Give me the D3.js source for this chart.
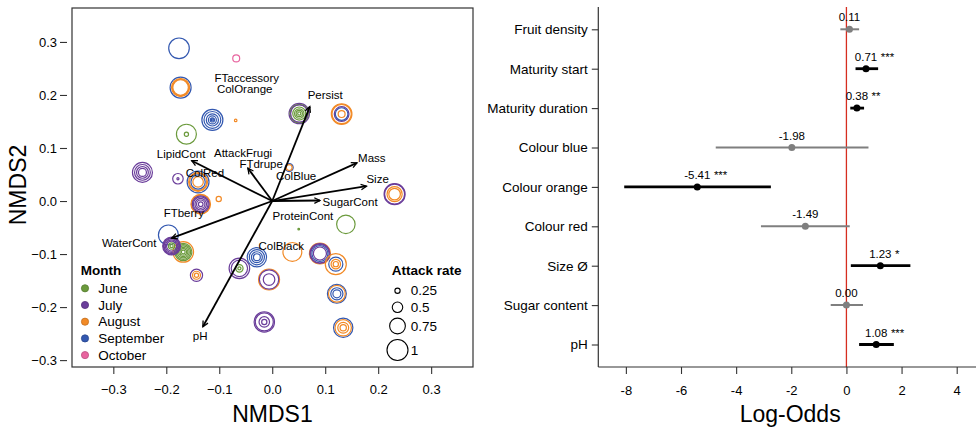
<!DOCTYPE html>
<html><head><meta charset="utf-8">
<script src="https://cdn.jsdelivr.net/npm/d3@7"></script>
<style>
body{margin:0;background:#fff}
svg{display:block}
text{font-family:"Liberation Sans",Arial,sans-serif;fill:#000}
</style>
</head><body>
<svg id="c" width="976" height="427"></svg>
<script>
// ---------- DATA: NMDS panel ----------
const months = ["June","July","August","September","October"];
const monthColors = ["#6b9a3c","#6a3d9a","#f28a26","#3358b0","#e8649f"];
const siteNMDS1 = [-0.176,-0.068,-0.173,-0.113,-0.069,-0.162,0.051,0.131,-0.245,-0.178,-0.140,-0.135,-0.101,-0.196,-0.168,-0.190,-0.143,-0.062,-0.029,-0.006,-0.015,0.038,0.090,0.120,0.122,0.134,0.139,0.050,0.231,0.032];
const siteNMDS2 = [0.288,0.269,0.214,0.153,0.152,0.126,0.165,0.164,0.054,0.042,0.036,-0.006,0.004,-0.064,-0.096,-0.085,-0.140,-0.127,-0.106,-0.148,-0.228,-0.096,-0.099,-0.119,-0.175,-0.239,-0.044,-0.053,0.013,0.063];
// each ring: [month index, attack rate]
const siteRings = [
  [[3,0.98]],
  [[4,0.33]],
  [[3,1.0],[2,0.86],[2,0.8],[2,0.74]],
  [[3,1.0],[3,0.8],[3,0.58],[3,0.38],[3,0.2],[3,0.1]],
  [[2,0.12]],
  [[0,0.95],[0,0.2]],
  [[1,0.97],[0,0.88],[1,0.82],[0,0.62],[0,0.45],[0,0.3],[0,0.15]],
  [[2,0.98],[2,0.92],[1,0.7],[3,0.6],[2,0.33]],
  [[1,0.95],[1,0.75],[1,0.56],[1,0.38]],
  [[1,0.5],[1,0.1]],
  [[3,1.04],[2,0.9],[2,0.82],[3,0.68],[2,0.5]],
  [[2,0.93],[2,0.88],[1,0.8],[1,0.7],[1,0.55],[1,0.4],[1,0.22]],
  [[2,0.25]],
  [[3,0.95]],
  [[2,0.98],[0,0.82],[0,0.7],[0,0.57],[0,0.44],[0,0.31],[0,0.18]],
  [[1,0.85],[1,0.78],[1,0.71],[1,0.6],[1,0.48],[0,0.3],[0,0.15]],
  [[1,0.58],[2,0.38],[2,0.2]],
  [[1,0.98],[1,0.78],[0,0.35],[0,0.15]],
  [[3,0.92],[3,0.72],[3,0.52],[3,0.33]],
  [[2,1.0],[1,0.92],[1,0.55]],
  [[1,0.97],[1,0.86],[1,0.5],[1,0.25]],
  [[2,0.9]],
  [[2,1.0],[1,0.95],[1,0.88],[3,0.76],[1,0.62]],
  [[2,1.0],[3,0.67],[2,0.45],[2,0.25]],
  [[3,0.9],[2,0.8],[3,0.58],[3,0.38]],
  [[3,0.92],[2,0.78],[2,0.52],[2,0.3]],
  [[0,0.88]],
  [[0,0.08]],
  [[1,1.0],[1,0.95],[2,0.72],[2,0.55]],
  [[3,0.38],[2,0.28]]
];
const vectorNames = ["AttackFrugi","LipidCont","Persist","Mass","Size","SugarCont","WaterCont","pH"];
const vectorNMDS1 = [-0.046,-0.152,0.071,0.160,0.178,0.090,-0.190,-0.131];
const vectorNMDS2 = [0.062,0.076,0.178,0.072,0.028,0.001,-0.070,-0.237];
const vectorLabelNMDS1 = [-0.055,-0.172,0.100,0.188,0.199,0.147,-0.270,-0.136];
const vectorLabelNMDS2 = [0.091,0.089,0.200,0.081,0.042,-0.001,-0.080,-0.255];
const factorNames = ["FTaccessory","ColOrange","FTdrupe","ColBlue","ColRed","FTberry","ProteinCont","ColBlack"];
const factorNMDS1 = [-0.048,-0.052,-0.021,0.045,-0.127,-0.167,0.058,0.017];
const factorNMDS2 = [0.232,0.211,0.069,0.048,0.053,-0.022,-0.028,-0.084];
const rateLegend = [0.25,0.5,0.75,1];
const nmdsTicks = [-0.3,-0.2,-0.1,0.0,0.1,0.2,0.3];

// ---------- DATA: log-odds panel ----------
const predictors = ["Fruit density","Maturity start","Maturity duration","Colour blue","Colour orange","Colour red","Size Ø","Sugar content","pH"];
const estimates = [0.11,0.71,0.38,-1.98,-5.41,-1.49,1.23,0.00,1.08];
const ciLow  = [-0.22,0.33,0.14,-4.74,-8.06,-3.10,0.16,-0.57,0.46];
const ciHigh = [0.46,1.15,0.64,0.80,-2.74,0.12,2.32,0.60,1.72];
const signif = ["","***","**","","***","","*","","***"];
const logOddsTicks = [-8,-6,-4,-2,0,2,4];

// ---------- DRAW ----------
const svg = d3.select("#c");
const axisCol = "#333";

// Left panel scales
const L = {left:72,right:473,top:8,bottom:367};
const x = d3.scaleLinear().domain([-0.378,0.379]).range([L.left,L.right]);
const y = d3.scaleLinear().domain([-0.313,0.364]).range([L.bottom,L.top]);
const r = d3.scaleLinear().domain([0,1]).range([0,10.5]);

// circles
const gC = svg.append("g");
siteRings.forEach((rings,i)=>{
  rings.forEach(([m,rate])=>{
    gC.append("circle")
      .attr("cx",x(siteNMDS1[i])).attr("cy",y(siteNMDS2[i]))
      .attr("r",Math.max(r(rate),0.6))
      .attr("fill","none").attr("stroke",monthColors[m]).attr("stroke-width",1.2);
  });
});

// arrows
svg.append("defs").append("marker")
  .attr("id","ah").attr("viewBox","-8 -5 10 10").attr("refX",0).attr("refY",0)
  .attr("markerWidth",8).attr("markerHeight",8).attr("markerUnits","userSpaceOnUse")
  .attr("orient","auto")
  .append("path").attr("d","M-7,-3.5L0,0L-7,3.5").attr("fill","none").attr("stroke","#000").attr("stroke-width",1.6);
const gA = svg.append("g");
vectorNames.forEach((n,i)=>{
  gA.append("line")
    .attr("x1",x(0)).attr("y1",y(0)).attr("x2",x(vectorNMDS1[i])).attr("y2",y(vectorNMDS2[i]))
    .attr("stroke","#000").attr("stroke-width",1.8).attr("marker-end","url(#ah)");
  gA.append("text").attr("x",x(vectorLabelNMDS1[i])).attr("y",y(vectorLabelNMDS2[i]))
    .attr("text-anchor","middle").attr("dominant-baseline","central")
    .attr("font-size","11.5px").text(n);
});
factorNames.forEach((n,i)=>{
  gA.append("text").attr("x",x(factorNMDS1[i])).attr("y",y(factorNMDS2[i]))
    .attr("text-anchor","middle").attr("dominant-baseline","central")
    .attr("font-size","11.5px").text(n);
});

// box
svg.append("rect").attr("x",L.left).attr("y",L.top).attr("width",L.right-L.left).attr("height",L.bottom-L.top)
  .attr("fill","none").attr("stroke",axisCol).attr("stroke-width",1.2);

// axes left panel
const fmt1 = d3.format(".1f");
const gxL = svg.append("g").attr("transform",`translate(0,${L.bottom})`)
  .call(d3.axisBottom(x).tickValues(nmdsTicks).tickSize(7).tickPadding(10.6).tickSizeOuter(0).tickFormat(fmt1));
const gyL = svg.append("g").attr("transform",`translate(67,0)`)
  .call(d3.axisLeft(y).tickValues(nmdsTicks).tickSize(7).tickPadding(3).tickSizeOuter(0).tickFormat(fmt1));
[gxL,gyL].forEach(g=>{
  g.select(".domain").remove();
  g.selectAll("line").attr("stroke",axisCol).attr("stroke-width",1.1);
  g.selectAll("text").attr("font-size","13px").attr("font-family","Liberation Sans, Arial, sans-serif").attr("fill","#000");
});
svg.append("text").attr("x",(L.left+L.right)/2).attr("y",421.5).attr("text-anchor","middle")
  .attr("font-size","23px").text("NMDS1");
svg.append("text").attr("transform","translate(26,185) rotate(-90)").attr("text-anchor","middle")
  .attr("font-size","23px").text("NMDS2");

// month legend
svg.append("text").attr("x",80.7).attr("y",270.7).attr("dominant-baseline","central")
  .attr("font-size","13.5px").attr("font-weight","bold").text("Month");
months.forEach((m,i)=>{
  const yy = 288.3 + i*16.7;
  svg.append("circle").attr("cx",85).attr("cy",yy).attr("r",3.6)
    .attr("fill",monthColors[i]).attr("stroke",d3.color(monthColors[i]).darker(0.6)).attr("stroke-width",0.8);
  svg.append("text").attr("x",98.3).attr("y",yy).attr("dominant-baseline","central")
    .attr("font-size","13.5px").text(m);
});
// attack rate legend
svg.append("text").attr("x",391.7).attr("y",270.7).attr("dominant-baseline","central")
  .attr("font-size","13.5px").attr("font-weight","bold").text("Attack rate");
const rateY = [290.7,307.3,326,350];
rateLegend.forEach((v,i)=>{
  svg.append("circle").attr("cx",397.5).attr("cy",rateY[i]).attr("r",r(v))
    .attr("fill","none").attr("stroke","#000").attr("stroke-width",1.1);
  svg.append("text").attr("x",410.7).attr("y",rateY[i]).attr("dominant-baseline","central")
    .attr("font-size","13.5px").text(String(v));
});

// ---------- Right panel ----------
const R = {left:598.3,right:976,top:7,bottom:367};
const xr = d3.scaleLinear().domain([-9,4.7]).range([R.left,R.right]);
const yr = d3.scalePoint().domain(predictors).range([29.3,344.5]);

svg.append("line").attr("x1",xr(0)).attr("x2",xr(0)).attr("y1",R.top).attr("y2",R.bottom)
  .attr("stroke","#d62d20").attr("stroke-width",1.3);

const gF = svg.append("g");
predictors.forEach((p,i)=>{
  const sig = signif[i] !== "";
  const col = sig ? "#000" : "#7f7f7f";
  const yy = yr(p);
  gF.append("line").attr("x1",xr(ciLow[i])).attr("x2",xr(ciHigh[i])).attr("y1",yy).attr("y2",yy)
    .attr("stroke",col).attr("stroke-width",sig?2.8:2);
  gF.append("circle").attr("cx",xr(estimates[i])).attr("cy",yy).attr("r",3.5).attr("fill",col);
  const t = gF.append("text").attr("x",xr(estimates[i])).attr("y",yy-8).attr("text-anchor","middle")
    .attr("font-size","11.5px").text(estimates[i].toFixed(2));
  if (sig) {
    const w = t.node().getComputedTextLength();
    gF.append("text").attr("x",xr(estimates[i])+w/2+3.5).attr("y",yy-8)
      .attr("font-size","11.5px").text(signif[i]);
  }
});

const gyR = svg.append("g").attr("transform",`translate(${R.left},0)`)
  .call(d3.axisLeft(yr).tickSize(6.5).tickPadding(4).tickSizeOuter(0));
const gxR = svg.append("g").attr("transform",`translate(0,${R.bottom})`)
  .call(d3.axisBottom(xr).tickValues(logOddsTicks).tickSize(7).tickPadding(11.3).tickSizeOuter(0).tickFormat(d=>String(d)));
[gxR,gyR].forEach(g=>{
  g.select(".domain").remove();
  g.selectAll("line").attr("stroke",axisCol).attr("stroke-width",1.1);
  g.selectAll("text").attr("font-family","Liberation Sans, Arial, sans-serif").attr("fill","#000");
});
gyR.selectAll("text").attr("font-size","13.5px");
gxR.selectAll("text").attr("font-size","13px");
svg.append("line").attr("x1",R.left).attr("x2",R.left).attr("y1",R.top).attr("y2",R.bottom)
  .attr("stroke",axisCol).attr("stroke-width",1.2);
svg.append("line").attr("x1",R.left).attr("x2",R.right).attr("y1",R.bottom).attr("y2",R.bottom)
  .attr("stroke",axisCol).attr("stroke-width",1.2);
svg.append("text").attr("x",(R.left+R.right)/2 + 3).attr("y",421.5).attr("text-anchor","middle")
  .attr("font-size","23px").text("Log-Odds");
</script>
</body></html>
